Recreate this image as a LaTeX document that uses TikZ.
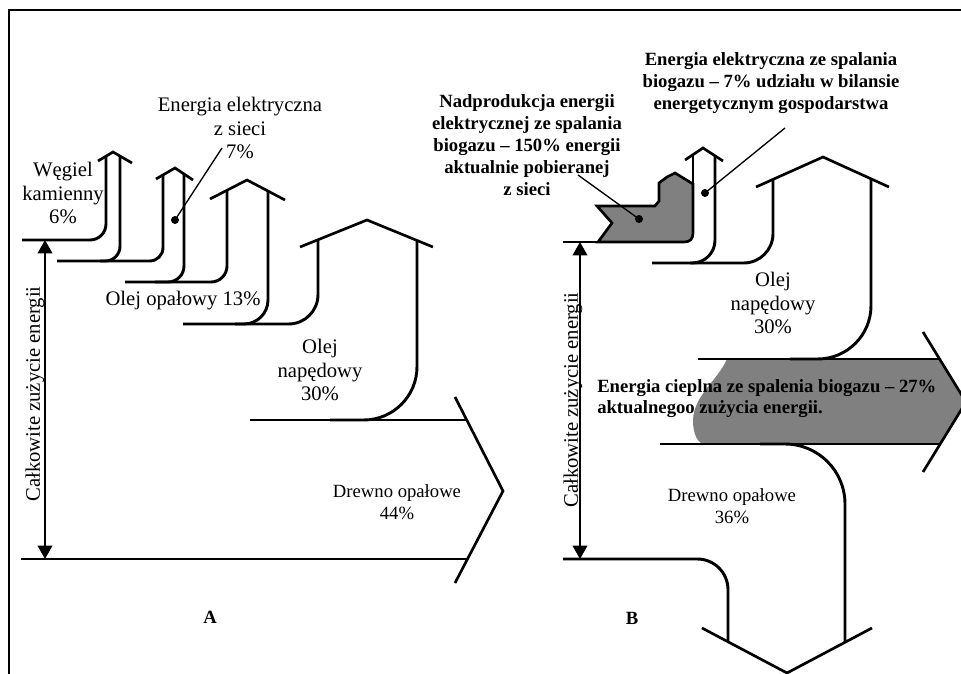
\documentclass[tikz,border=0pt]{standalone}
\usepackage{fontspec}
\setmainfont{Liberation Serif}
\usetikzlibrary{arrows.meta}
\definecolor{biogray}{RGB}{128,128,128}
\begin{document}
\begin{tikzpicture}[x=0.75pt,y=-0.75pt,
  flow/.style={line width=2.2pt},
  roof/.style={line width=2pt},
  ptr/.style={line width=1pt},
  frame/.style={line width=1.5pt},
  dotn/.style={circle,fill=black,inner sep=0pt,minimum size=6pt},
  lbl/.style={font=\fontsize{15.5}{17.3}\selectfont,align=center,inner sep=0pt},
  lbls/.style={font=\fontsize{14}{16.5}\selectfont,align=center,inner sep=0pt},
  blbl/.style={font=\bfseries\fontsize{14}{16.5}\selectfont,align=center,inner sep=0pt},
  panel/.style={font=\bfseries\fontsize{14}{16}\selectfont,inner sep=0pt},
  dimarrow/.style={line width=1.1pt,{Triangle[length=10pt,width=11pt]}-{Triangle[length=10pt,width=11pt]}},
]
\useasboundingbox (0,0) rectangle (961,674);
% frame
\draw[frame] (9,674) -- (9,10) -- (961,10);

% ===== Panel A =====
\draw[flow, rounded corners=12pt] (22,240) -- (106,240) -- (106,156);
\draw[flow, rounded corners=11pt] (120,156) -- (120,261) -- (100,261);
\draw[flow, rounded corners=10pt] (57,261) -- (163,261) -- (163,175);
\draw[flow, rounded corners=12pt] (184,174) -- (184,282) -- (155,282);
\draw[flow, rounded corners=12pt] (125,282) -- (227,282) -- (227,190);
\draw[flow, rounded corners=18pt] (268,191) -- (268,324) -- (235,324);
\draw[flow, rounded corners=22pt] (183,324) -- (318,324) -- (318,240);
\draw[flow, rounded corners=40pt] (417,240) -- (417,420) -- (330,420);
\draw[flow] (250,420) -- (467,420);
\draw[flow] (21,559) -- (468,559);
\draw[roof] (455,397) -- (503,491) -- (455,583);
\draw[roof] (98,161) -- (113,152) -- (132,163);
\draw[roof] (156,179) -- (175,168) -- (193,180);
\draw[roof] (210,199) -- (247,180) -- (285,200);
\draw[roof] (300,247) -- (367,220) -- (433,247);

\coordinate (topA) at (45,240);
\coordinate (botA) at (45,559);
\draw[dimarrow] (botA) -- (topA);

\node[lbl] (weg) at (63,193) {Węgiel\\kamienny\\6\%};
\node[lbl] (eel) at (240,128) {Energia elektryczna\\z sieci\\7\%};
\node[lbl] (oop) at (183,301) {Olej opałowy 13\%};
\node[lbl] (onA) at (320,370) {Olej\\napędowy\\30\%};
\node[lbls] (drA) at (397,502) {Drewno opałowe\\44\%};
\node[lbl, rotate=90] (totA) at (35,394) {Całkowite zużycie energii};
\node[panel] (labA) at (210,617) {A};

\node[dotn] (dA) at (175,220) {};
\coordinate (pA) at (222,148);
\draw[ptr] (pA) -- (dA.center);

% ===== Panel B =====
% gray heat arrow fill
\fill[biogray] (727,359) .. controls (718,380) and (694,395) .. (693,420)
   .. controls (693,435) and (698,444) .. (705,444) -- (940,444) -- (966,402) -- (940,359) -- cycle;

\draw[flow] (563,242) -- (600,242);
\draw[roof, fill=biogray] (597,206) -- (655,206) -- (659,201) -- (659,183) -- (667,177)
   -- (675,173) -- (693,184) -- (693,233) .. controls (693,239) and (690,242) .. (684,242)
   -- (598,242) -- (612,223) -- cycle;
\draw[flow] (693,155) -- (693,233);
\draw[flow, rounded corners=17pt] (715,156) -- (715,263) -- (690,263);
\draw[flow, rounded corners=22pt] (652,263) -- (773,263) -- (773,179);
\draw[flow, rounded corners=40pt] (871,179) -- (871,359) -- (790,359);
\draw[flow] (698,359) -- (940,359);
\draw[flow] (660,444) -- (940,444);
\draw[roof] (923,332) -- (966,402) -- (923,472);
\draw[flow, rounded corners=23pt] (563,559) -- (728,559) -- (728,642);
\draw[flow, rounded corners=45pt] (760,444) -- (845,444) -- (845,642);
\draw[roof] (702,628) -- (787,673) -- (872,628);
\draw[roof] (685,160) -- (703,148) -- (723,161);
\draw[roof] (756,187) -- (823,157) -- (889,187);

\coordinate (topB) at (580,242);
\coordinate (botB) at (580,559);
\draw[dimarrow] (botB) -- (topB);

\node[blbl] (eeB) at (771,83) {Energia elektryczna ze spalania\\biogazu – 7\% udziału w bilansie\\energetycznym gospodarstwa};
\node[blbl] (nad) at (527,145) {Nadprodukcja energii\\elektrycznej ze spalania\\biogazu – 150\% energii\\aktualnie pobieranej\\z sieci};
\node[lbl] (onB) at (773,303) {Olej\\napędowy\\30\%};
\node[blbl, align=left, anchor=west, font=\bfseries\fontsize{14}{15.8}\selectfont] (heat) at (597,399) {Energia cieplna ze spalenia biogazu – 27\%\\aktualnegoo zużycia energii.};
\node[lbls] (drB) at (732,506) {Drewno opałowe\\36\%};
\node[lbl, rotate=90] (totB) at (573,400) {Całkowite zużycie energii};
\node[panel] (labB) at (632,618) {B};

\node[dotn] (dB1) at (705,193) {};
\coordinate (pB1) at (785,128);
\draw[ptr] (pB1) -- (dB1.center);
\node[dotn] (dB2) at (639,219) {};
\coordinate (pB2) at (578,175);
\draw[ptr] (pB2) -- (dB2.center);
\end{tikzpicture}
\end{document}
